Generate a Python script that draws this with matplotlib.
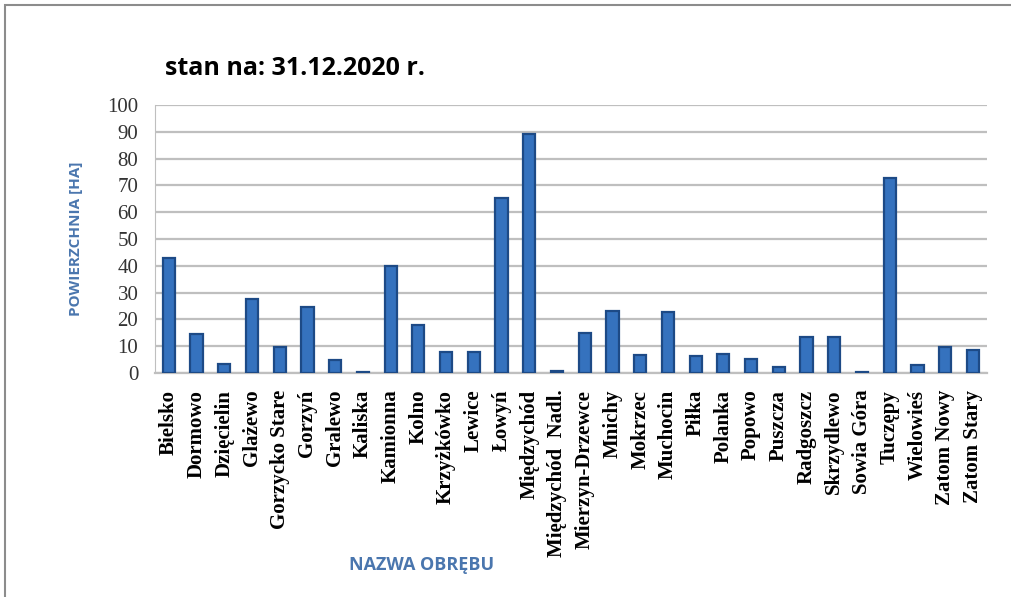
import numpy as np
from matplotlib import pyplot as plt
from matplotlib.patches import Rectangle

obreby = ['Bielsko', 'Dormowo', 'Dzięcielin', 'Glażewo', 'Gorzycko Stare', 'Gorzyń',
          'Gralewo', 'Kaliska', 'Kamionna', 'Kolno', 'Krzyżkówko', 'Lewice', 'Łowyń',
          'Międzychód', 'Międzychód  Nadl.', 'Mierzyn-Drzewce', 'Mnichy', 'Mokrzec',
          'Muchocin', 'Piłka', 'Polanka', 'Popowo', 'Puszcza', 'Radgoszcz', 'Skrzydlewo',
          'Sowia Góra', 'Tuczępy', 'Wielowieś', 'Zatom Nowy', 'Zatom Stary']
powierzchnia = [43.1, 14.5, 3.4, 27.7, 9.8, 24.6, 5.0, 0.4, 39.8, 18.0, 7.8, 7.8, 65.2,
                89.0, 0.6, 14.9, 23.0, 6.8, 22.6, 6.5, 7.2, 5.2, 2.2, 13.4, 13.4, 0.2,
                72.7, 3.0, 9.8, 8.7]
y_ticks = list(range(0, 101, 10))

label_color = '#4A76AE'

fig = plt.figure(figsize=(10.11, 5.97), dpi=100)
ax = fig.add_axes([0.1533, 0.3752, 0.8227, 0.4489])

x = np.arange(len(obreby))
ax.bar(x, powierzchnia, width=0.44, color='#3572BE', edgecolor='#1D4A86',
       linewidth=1.6, zorder=3)

ax.set_xlim(-0.5, len(obreby) - 0.5)
ax.set_ylim(0, 100)
ax.set_yticks(y_ticks)
ax.set_yticklabels([str(v) for v in y_ticks], family='Liberation Serif', fontsize=15,
                   color='#333333')
ax.set_xticks(x)
ax.set_xticklabels(obreby, rotation=90, family='Liberation Serif', fontweight='bold',
                   fontsize=15)
ax.tick_params(axis='both', length=0)
ax.tick_params(axis='y', pad=12)
ax.tick_params(axis='x', pad=12)
ax.yaxis.grid(True, color='#BFBFBF', linewidth=1.6, zorder=0)
for side in ['top', 'right']:
    ax.spines[side].set_visible(False)
ax.spines['left'].set_color('#BFBFBF')
ax.spines['bottom'].set_color('#BFBFBF')
ax.spines['bottom'].set_linewidth(1.6)

fig.text(0.163, 0.886, 'stan na: 31.12.2020 r.', fontsize=18, fontweight='bold',
         family='Open Sans', va='center', ha='left')
fig.text(0.075, 0.6, 'POWIERZCHNIA [HA]', rotation=90, fontsize=11, fontweight='bold',
         color=label_color, family='Open Sans', va='center', ha='center')
fig.text(0.417, 0.053, 'NAZWA OBRĘBU', fontsize=13, fontweight='bold',
         color=label_color, family='Open Sans', va='center', ha='center')

fig.patches.append(Rectangle((0.005, -0.1), 1.1, 1.092, transform=fig.transFigure,
                             fill=False, edgecolor='#8C8C8C', linewidth=1.5))

fig.savefig('out.png', dpi=100)
